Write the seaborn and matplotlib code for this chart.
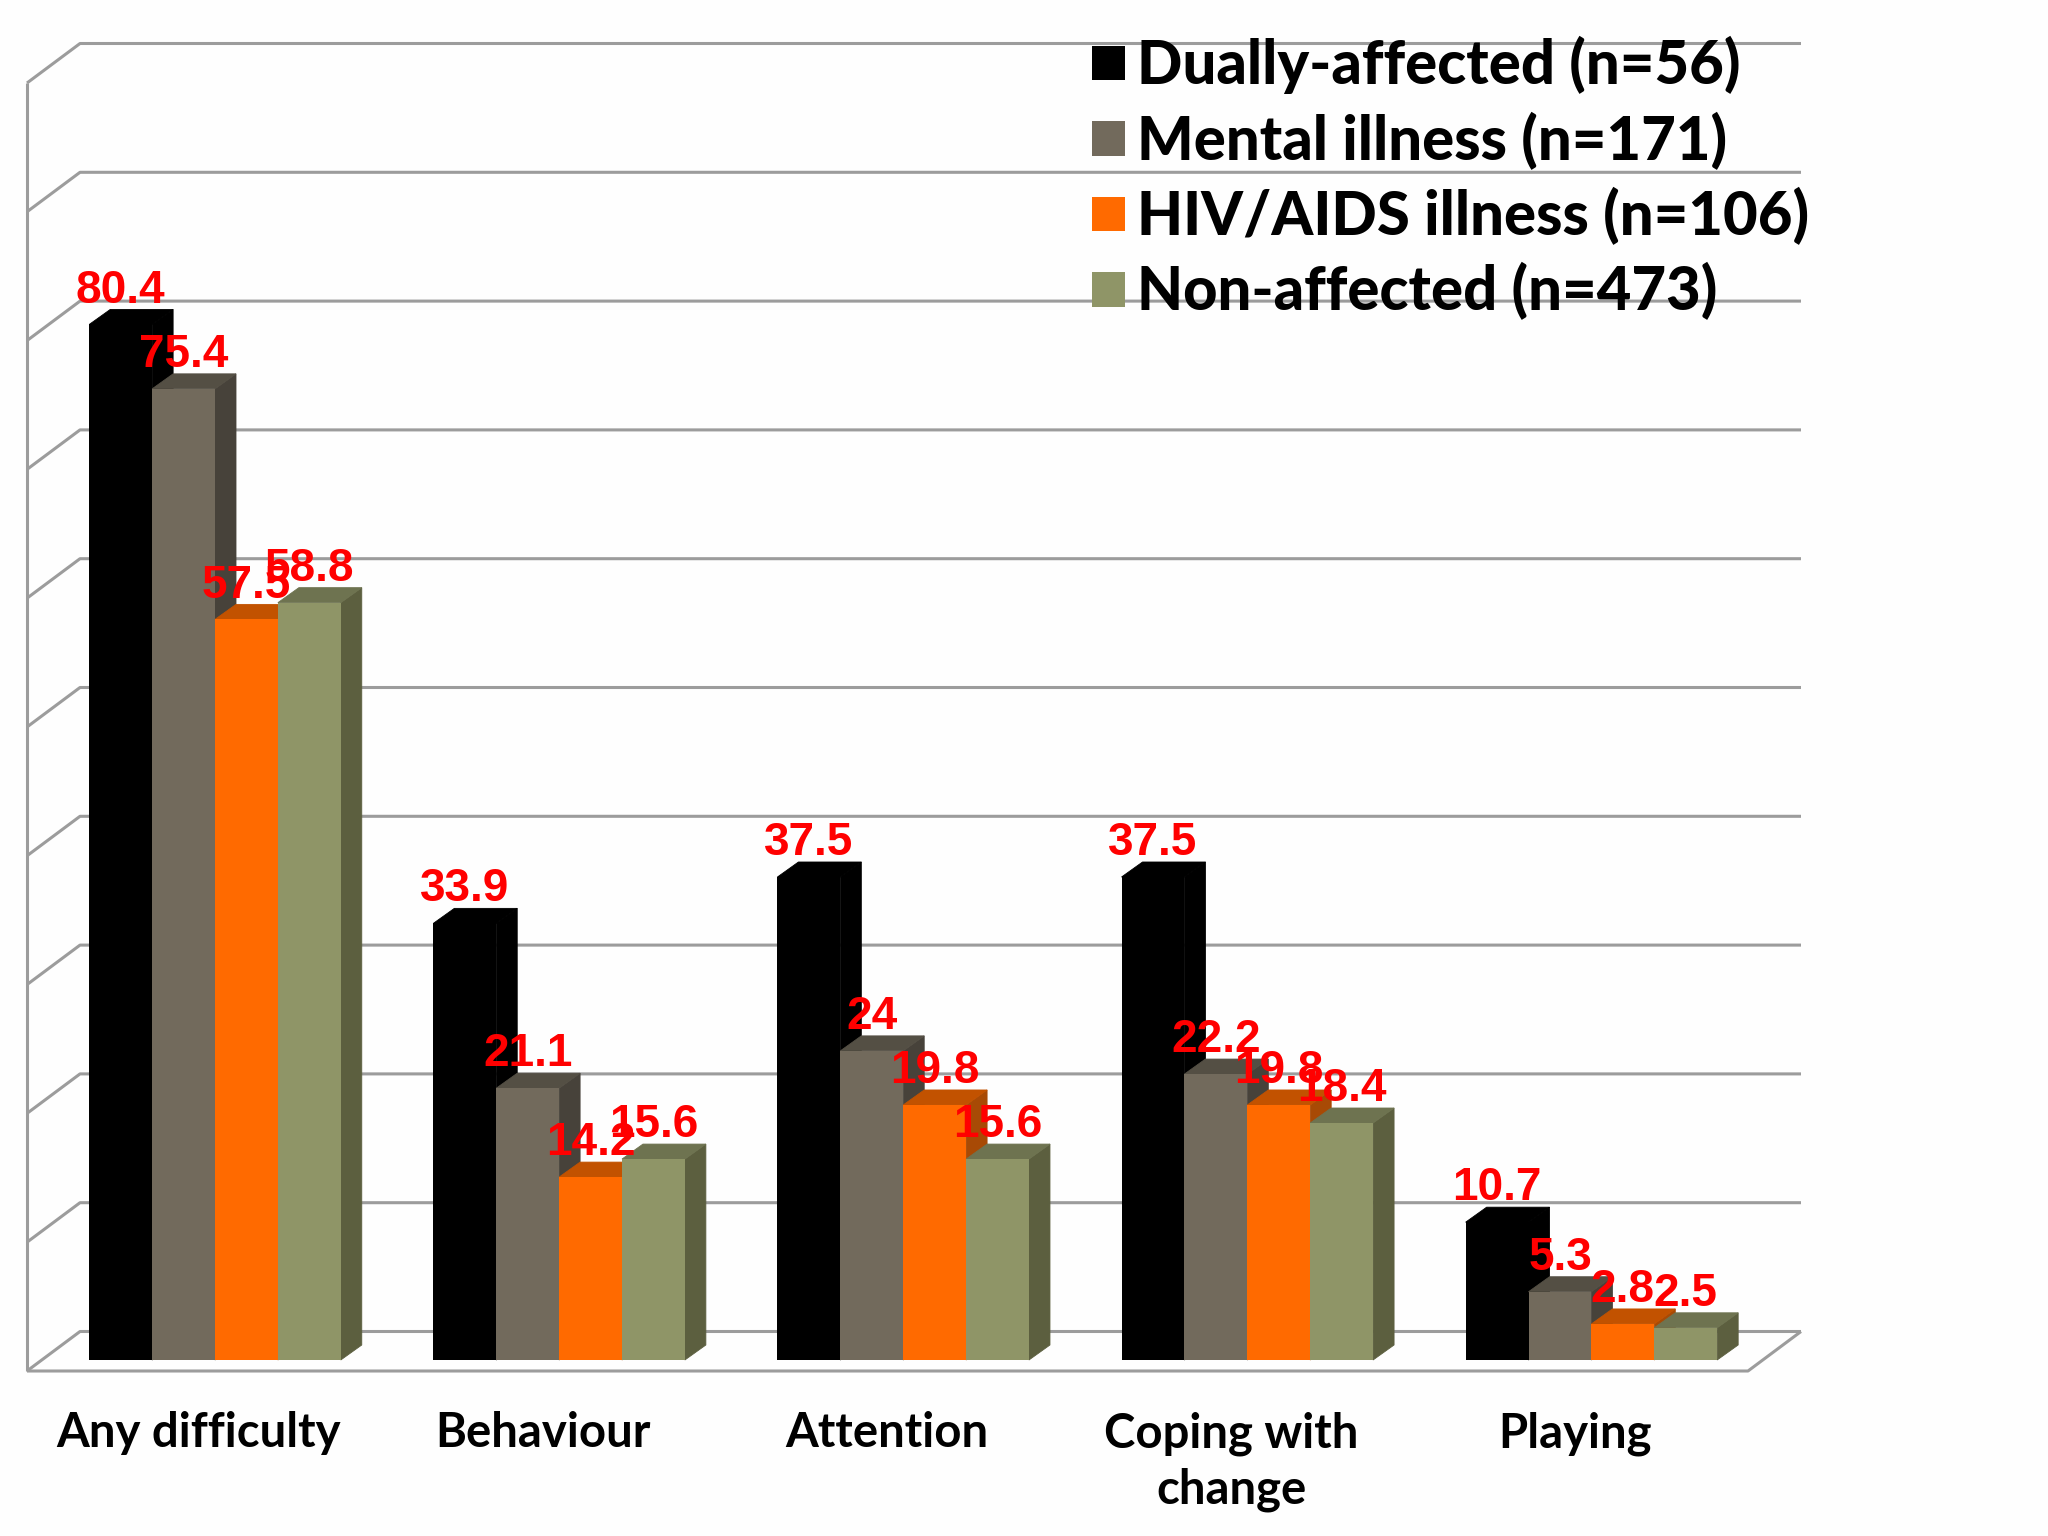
import matplotlib
matplotlib.use("Agg")
import matplotlib.pyplot as plt
from matplotlib.patches import Polygon
import pandas as pd
import seaborn as sns

categories = ["Any difficulty", "Behaviour", "Attention", "Coping with\nchange", "Playing"]
dually = [80.4, 33.9, 37.5, 37.5, 10.7]
mental = [75.4, 21.1, 24, 22.2, 5.3]
hiv = [57.5, 14.2, 19.8, 19.8, 2.8]
non_affected = [58.8, 15.6, 15.6, 18.4, 2.5]
series_names = ["Dually-affected (n=56)", "Mental illness (n=171)",
                "HIV/AIDS illness (n=106)", "Non-affected (n=473)"]
front_colors = ["#000000", "#726A5C", "#FF6A00", "#8F9567"]
top_colors = ["#000000", "#544F44", "#C25200", "#6E7350"]
side_colors = ["#000000", "#47423A", "#A84A05", "#5C5F3F"]

W, H = 2048, 1536
sns.set_theme(style="white")
plt.rcParams["font.family"] = ["Lato", "DejaVu Sans"]

df = pd.DataFrame({
    "category": categories * 4,
    "series": [s for s in series_names for _ in categories],
    "value": dually + mental + hiv + non_affected,
})

fig = plt.figure(figsize=(W / 100, H / 100), dpi=100, facecolor="#FEFEFE")
# front plane of the 3D box, in pixels
left, right, bottom, top = 27, 1748, 1371, 83
ax = fig.add_axes([left / W, 1 - bottom / H, (right - left) / W, (bottom - top) / H])
ax.patch.set_alpha(0)
sns.barplot(data=df, x="category", y="value", hue="series", order=categories,
            hue_order=series_names, palette=front_colors, width=0.731, gap=0,
            saturation=1, dodge=True, legend=True, ax=ax, linewidth=0, errorbar=None)

px_per_cat = 344.1
px_per_unit = 12.88
base_px = 1360
ax.set_xlim(-(215 - left) / px_per_cat, (right - 215) / px_per_cat)
ax.set_ylim(-(bottom - base_px) / px_per_unit, (bottom - top) / px_per_unit - (bottom - base_px) / px_per_unit)
y_floor = ax.get_ylim()[0]
x_l, x_r = ax.get_xlim()

# walls and gridlines
wall_dx, wall_dy = 53 / px_per_cat, 39.5 / px_per_unit
line_kw = dict(color="#9C9C9C", lw=2.2, clip_on=False, zorder=1, solid_capstyle="butt")
for v in range(0, 101, 10):
    y = y_floor + v
    ax.plot([x_l, x_l + wall_dx, x_r + wall_dx], [y, y + wall_dy, y + wall_dy], **line_kw)
ax.plot([x_l, x_l], [y_floor, y_floor + 100], **line_kw)
ax.plot([x_l, x_r, x_r + wall_dx], [y_floor, y_floor, y_floor + wall_dy], **line_kw)

# 3D faces derived from the bars drawn by seaborn
bar_dx, bar_dy = 21 / px_per_cat, 15 / px_per_unit
for s, container in enumerate(ax.containers):
    for c, bar in enumerate(container.patches):
        x0, w, h = bar.get_x(), bar.get_width(), bar.get_height()
        z = 2 + (c * 10 + s) * 0.01
        ax.add_patch(Polygon([(x0 + w, 0), (x0 + w + bar_dx, bar_dy), (x0 + w + bar_dx, h + bar_dy), (x0 + w, h)],
                             closed=True, fc=side_colors[s], ec=side_colors[s], lw=0.6, zorder=z, clip_on=False))
        ax.add_patch(Polygon([(x0, h), (x0 + bar_dx, h + bar_dy), (x0 + w + bar_dx, h + bar_dy), (x0 + w, h)],
                             closed=True, fc=top_colors[s], ec=top_colors[s], lw=0.6, zorder=z, clip_on=False))
        bar.set_zorder(z + 0.005)
        ax.text(x0 + w / 2, h + 1.7, f"{h:g}", color="#FF0000", ha="center", va="baseline",
                fontsize=33, fontweight="bold", family="Liberation Sans", zorder=10)

# category labels sit under the slot centres, a little left of the bars
ax.set_xticks([i - 16 / px_per_cat for i in range(len(categories))], categories)
ax.tick_params(axis="x", length=0, pad=29, labelsize=34, labelcolor="black")
for t in ax.get_xticklabels():
    t.set_fontweight("bold")
    t.set_linespacing(1.33)
ax.set_yticks([])
ax.set_xlabel("")
ax.set_ylabel("")
sns.despine(ax=ax, left=True, bottom=True)

handles, labels = ax.get_legend_handles_labels()
ax.legend(handles, labels, loc="upper left", bbox_to_anchor=(1092 / W, 1 - 36 / H),
          bbox_transform=fig.transFigure, frameon=False, borderpad=0, borderaxespad=0,
          handlelength=0.56, handleheight=0.51, handletextpad=0.2,
          labelspacing=0.29, labelcolor="black", prop={"weight": 900, "size": 43})

fig.savefig("out.png", dpi=100, facecolor=fig.get_facecolor())
